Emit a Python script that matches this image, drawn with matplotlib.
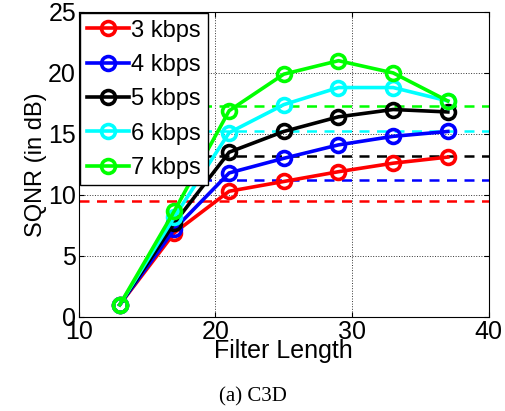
import matplotlib
matplotlib.use('Agg')
import matplotlib.pyplot as plt

filter_len = [13, 17, 21, 25, 29, 33, 37]
labels = ['3 kbps', '4 kbps', '5 kbps', '6 kbps', '7 kbps']
colors = ['#ff0000', '#0000ff', '#000000', '#00ffff', '#00ff00']

sqnr_3 = [1.0, 6.9, 10.3, 11.1, 11.9, 12.6, 13.1]
sqnr_4 = [1.0, 7.2, 11.8, 13.0, 14.1, 14.8, 15.2]
sqnr_5 = [1.0, 7.7, 13.5, 15.2, 16.4, 17.0, 16.8]
sqnr_6 = [1.0, 8.2, 15.1, 17.4, 18.8, 18.8, 17.7]
sqnr_7 = [1.0, 8.7, 16.9, 19.9, 21.0, 20.0, 17.7]

# reference levels (dashed)
ref_levels = [9.5, 11.2, 13.2, 15.2, 17.3]


def main():
    plt.rcParams['font.family'] = ['Liberation Sans', 'DejaVu Sans']
    fig = plt.figure(figsize=(5.05, 4.11), dpi=100)
    ax = fig.add_axes([0.156, 0.229, 0.812, 0.742])

    series = [sqnr_3, sqnr_4, sqnr_5, sqnr_6, sqnr_7]
    for lvl, c in zip(ref_levels, colors):
        ax.axhline(lvl, color=c, lw=1.8, ls=(0, (4, 3)), zorder=2)
    for s, c, lab in zip(series, colors, labels):
        ax.plot(filter_len, s, color=c, lw=2.6, marker='o', ms=10,
                mfc='none', mec=c, mew=2.6, label=lab, zorder=3)

    ax.set_xlim(10, 40)
    ax.set_ylim(0, 25)
    ax.set_xticks([10, 20, 30, 40])
    ax.set_yticks([0, 5, 10, 15, 20, 25])
    ax.grid(True, ls=':', color='k', lw=0.7, alpha=0.8)
    ax.tick_params(direction='in', top=True, right=True, labelsize=18, pad=2)
    ax.set_xlabel('Filter Length', fontsize=18, labelpad=-3)
    ax.set_ylabel('SQNR (in dB)', fontsize=17, labelpad=1)

    leg = ax.legend(loc='upper left', fontsize=17, frameon=True, fancybox=False,
                    edgecolor='k', framealpha=1, borderaxespad=0.05,
                    handlelength=1.8, handletextpad=0.1, labelspacing=0.52,
                    borderpad=0.28)
    leg.get_frame().set_linewidth(1.0)

    fig.text(0.5, 0.022, '(a) C3D', ha='center', fontsize=15,
             family=['Liberation Serif', 'DejaVu Serif'])

    fig.savefig('out.png', dpi=100)


if __name__ == '__main__':
    main()
